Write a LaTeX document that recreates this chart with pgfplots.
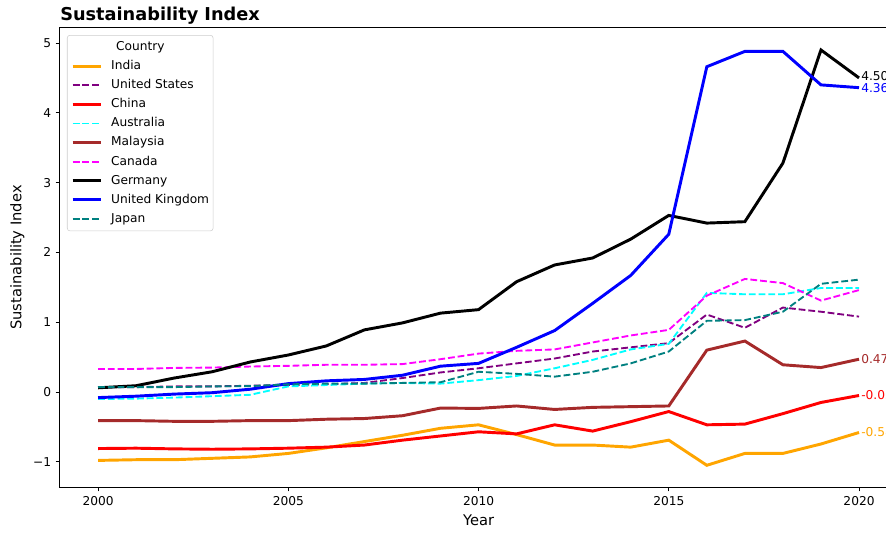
\documentclass[border=0pt]{standalone}
\usepackage{fontspec}
\setmainfont{DejaVu Sans}
\setsansfont{DejaVu Sans}
\usepackage{pgfplots}
\usepackage{pgfplotstable}
\pgfplotsset{compat=1.18}

\definecolor{cOrange}{RGB}{255,165,0}
\definecolor{cPurple}{RGB}{128,0,128}
\definecolor{cRed}{RGB}{255,0,0}
\definecolor{cCyan}{RGB}{0,255,255}
\definecolor{cBrown}{RGB}{165,42,42}
\definecolor{cMagenta}{RGB}{255,0,255}
\definecolor{cBlue}{RGB}{0,0,255}
\definecolor{cTeal}{RGB}{0,128,128}

\pgfplotstableread{
year India US China Australia Malaysia Canada Germany UK Japan
2000 -0.98 0.07 -0.81 -0.10 -0.41 0.33 0.06 -0.08 0.07
2001 -0.97 0.07 -0.805 -0.095 -0.41 0.33 0.09 -0.06 0.07
2002 -0.97 0.08 -0.815 -0.08 -0.42 0.345 0.20 -0.03 0.07
2003 -0.95 0.08 -0.82 -0.06 -0.42 0.35 0.29 -0.01 0.08
2004 -0.93 0.09 -0.815 -0.04 -0.41 0.365 0.43 0.04 0.085
2005 -0.88 0.10 -0.805 0.08 -0.41 0.375 0.53 0.12 0.11
2006 -0.80 0.11 -0.79 0.10 -0.39 0.39 0.66 0.16 0.12
2007 -0.71 0.13 -0.76 0.12 -0.38 0.39 0.89 0.18 0.12
2008 -0.62 0.20 -0.69 0.13 -0.34 0.40 0.99 0.24 0.13
2009 -0.52 0.28 -0.63 0.12 -0.23 0.47 1.13 0.37 0.14
2010 -0.47 0.34 -0.57 0.17 -0.235 0.55 1.18 0.41 0.29
2011 -0.61 0.41 -0.60 0.23 -0.20 0.59 1.58 0.64 0.26
2012 -0.76 0.48 -0.47 0.34 -0.25 0.61 1.82 0.88 0.22
2013 -0.76 0.58 -0.56 0.46 -0.22 0.71 1.92 1.27 0.29
2014 -0.79 0.64 -0.425 0.61 -0.21 0.81 2.19 1.67 0.41
2015 -0.69 0.70 -0.28 0.69 -0.20 0.89 2.53 2.26 0.58
2016 -1.05 1.11 -0.47 1.42 0.60 1.38 2.42 4.66 1.02
2017 -0.88 0.92 -0.46 1.40 0.73 1.62 2.44 4.88 1.03
2018 -0.88 1.21 -0.31 1.40 0.39 1.56 3.28 4.88 1.15
2019 -0.745 1.15 -0.15 1.49 0.35 1.31 4.90 4.40 1.55
2020 -0.58 1.08 -0.05 1.49 0.47 1.46 4.50 4.36 1.61
}\datatable

\begin{document}
\begin{tikzpicture}
\begin{axis}[
  scale only axis,
  width=627.8pt, height=344.25pt,
  xmin=1999, xmax=2021,
  ymin=-1.361, ymax=5.215,
  axis line style={black, line width=0.75pt},
  tick align=outside,
  tick style={black, line width=0.75pt},
  major tick length=3.2pt,
  xtick pos=bottom, ytick pos=left,
  xtick={2000,2005,2010,2015,2020},
  xticklabels={2000,2005,2010,2015,2020},
  ytick={-1,0,1,2,3,4,5},
  yticklabels={−1,0,1,2,3,4,5},
  ticklabel style={font=\fontsize{9.15}{11}\selectfont},
  xticklabel style={inner sep=0pt, yshift=-4pt},
  yticklabel style={inner sep=0pt, xshift=-3.3pt},
  xlabel={Year},
  ylabel={Sustainability Index},
  label style={font=\fontsize{11}{13}\selectfont},
  xlabel style={at={(axis description cs:0.5,-0.0719)}, anchor=center},
  ylabel style={at={(axis description cs:-0.0509,0.5)}, anchor=center, rotate=0},
  clip=false,
  legend cell align=left,
  legend image code/.code={\draw[#1] (0pt,0pt) -- (21pt,0pt);},
  legend style={
    at={(0.00836,0.9847)}, anchor=north west,
    draw=black!20, fill=white, fill opacity=0.8, text opacity=1, draw opacity=1,
    rounded corners=2pt,
    font=\fontsize{9.15}{11}\selectfont,
    inner xsep=3pt, inner ysep=4.5pt,
    row sep=5.3pt, column sep=6.75pt,
    nodes={inner sep=0pt, text height=7pt, text depth=2pt},
  },
  solid line/.style={line width=2.2pt},
  dash line/.style={line width=1.4pt, dash pattern=on 5.1pt off 2.2pt},
]
\addlegendimage{empty legend}
\addlegendentry{\hspace{3.75pt}Country}

\addplot[cOrange, solid line] table[x=year, y=India] {\datatable};
\addlegendentry{India}
\addplot[cPurple, dash line] table[x=year, y=US] {\datatable};
\addlegendentry{United States}
\addplot[cRed, solid line] table[x=year, y=China] {\datatable};
\addlegendentry{China}
\addplot[cCyan, dash line] table[x=year, y=Australia] {\datatable};
\addlegendentry{Australia}
\addplot[cBrown, solid line] table[x=year, y=Malaysia] {\datatable};
\addlegendentry{Malaysia}
\addplot[cMagenta, dash line] table[x=year, y=Canada] {\datatable};
\addlegendentry{Canada}
\addplot[black, solid line] table[x=year, y=Germany] {\datatable};
\addlegendentry{Germany}
\addplot[cBlue, solid line] table[x=year, y=UK] {\datatable};
\addlegendentry{United Kingdom}
\addplot[cTeal, dash line] table[x=year, y=Japan] {\datatable};
\addlegendentry{Japan}

\node[anchor=west, inner sep=0pt, xshift=1.5pt, font=\fontsize{9.15}{11}\selectfont, black] at (axis cs:2020,4.53) {4.50};
\node[anchor=west, inner sep=0pt, xshift=1.5pt, font=\fontsize{9.15}{11}\selectfont, cBlue] at (axis cs:2020,4.36) {4.36};
\node[anchor=west, inner sep=0pt, xshift=1.5pt, font=\fontsize{9.15}{11}\selectfont, cBrown] at (axis cs:2020,0.47) {0.47};
\node[anchor=west, inner sep=0pt, xshift=1.5pt, font=\fontsize{9.15}{11}\selectfont, cRed] at (axis cs:2020,-0.05) {-0.05};
\node[anchor=west, inner sep=0pt, xshift=1.5pt, font=\fontsize{9.15}{11}\selectfont, cOrange] at (axis cs:2020,-0.58) {-0.58};

\node[anchor=base west, inner sep=0pt, font=\fontsize{13.3}{15}\selectfont\bfseries] at ([yshift=5.5pt]rel axis cs:0,1) {Sustainability Index};
\end{axis}
\pgfresetboundingbox
\useasboundingbox (-45pt,-34.5pt) rectangle (619.5pt,365.25pt);
\end{tikzpicture}
\end{document}
